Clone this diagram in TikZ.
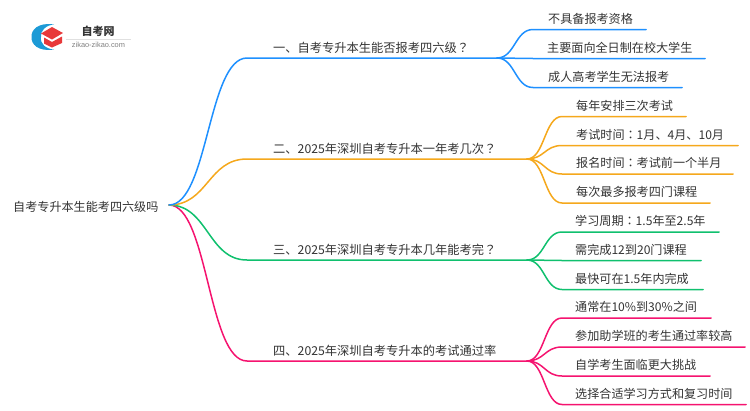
\documentclass[tikz,border=0pt]{standalone}
\usepackage{fontspec}
\setmainfont{Noto Sans CJK SC}
\newfontfamily\lat{Liberation Sans}
\newfontfamily\tcf{Noto Sans CJK TC}
\usetikzlibrary{calc}
\definecolor{cblue}{HTML}{1E90FF}
\definecolor{corange}{HTML}{F5A81C}
\definecolor{cgreen}{HTML}{10C06E}
\definecolor{cpink}{HTML}{F5136F}
\definecolor{ctext}{HTML}{333333}
\definecolor{lgred}{HTML}{E8393A}
\definecolor{lgblue}{HTML}{1C9AD6}
\tikzset{
  lbl/.style={anchor=west,inner sep=0pt,text=ctext,font=\fontsize{12.1}{14}\selectfont},
  head/.style={lbl,font=\fontsize{12.25}{14}\selectfont},
  wire/.style={line width=1.5pt,line cap=round,line join=round},
}
\newcommand{\qm}{{\tcf ？}}
\newcommand{\cln}{{\tcf ：}}
\newcommand{\sbend}[4]{%
  \draw[wire,#1] (#2) .. controls ($(#2)!0.5!(#3|-#2)$) and ($(#2|-#3)!0.5!(#3)$) .. (#3) -- (#4);}
\begin{document}
\begin{tikzpicture}[x=1pt,y=-1pt]
\useasboundingbox (0,0) rectangle (750,410);
% logo
\fill[lgblue] (54,24.5) .. controls (38,22) and (31,30) .. (31.5,37) .. controls (31,44) and (38,52) .. (54,49.5) .. controls (46,49) and (40,44) .. (41,37) .. controls (40,31) and (46,25) .. (54,24.5) -- cycle;
\fill[lgred] (41,33.5) -- (52,27) -- (63,33) -- (52,39.5) -- cycle;
\fill[lgred] (44,37.5) -- (52,42) -- (62,36.5) -- (62,43) -- (52,47.5) -- (44,43.5) -- cycle;
\node[inner sep=0pt,text=ctext,font=\fontsize{11}{12}\bfseries\selectfont] (lg) at (98,31) {自考网};
\draw[black!12,line width=0.6pt] (66,39) -- (131,39);
\node[inner sep=0pt,text=black!50,font=\lat\fontsize{7.4}{9}\selectfont] (lu) at (98.5,45) {zikao-zikao.com};
% root
\node[lbl] (root) at (13,206.5) {自考专升本生能考四六级吗};
\coordinate (r) at (169,205);
% branch anchors
\coordinate (b1a) at (247,58); \coordinate (b1z) at (497,58);
\coordinate (b2a) at (247,159); \coordinate (b2z) at (527,159);
\coordinate (b3a) at (247,260); \coordinate (b3z) at (527,260);
\coordinate (b4a) at (247,361); \coordinate (b4z) at (527,361);
\sbend{cpink}{r}{b4a}{b4z}
\sbend{cgreen}{r}{b3a}{b3z}
\sbend{corange}{r}{b2a}{b2z}
\sbend{cblue}{r}{b1a}{b1z}
\node[head] (n1) at (273,48) {一、自考专升本生能否报考四六级\qm};
\node[head] (n2) at (273,148.5) {二、2025年深圳自考专升本一年考几次\qm};
\node[head] (n3) at (273,249.5) {三、2025年深圳自考专升本几年能考完\qm};
\node[head] (n4) at (273,350.5) {四、2025年深圳自考专升本的考试通过率};
% blue leaves
\node[lbl] (a1) at (548,19) {不具备报考资格};
\node[lbl] (a2) at (547,48) {主要面向全日制在校大学生};
\node[lbl] (a3) at (548,76.5) {成人高考学生无法报考};
\coordinate (a1a) at (533,29.5); \coordinate (a1z) at (646,29.5);
\coordinate (a2a) at (533,58.5); \coordinate (a2z) at (705,58.5);
\coordinate (a3a) at (533,87.5); \coordinate (a3z) at (682,87.5);
\sbend{cblue}{b1z}{a1a}{a1z}
\sbend{cblue}{b1z}{a2a}{a2z}
\sbend{cblue}{b1z}{a3a}{a3z}
% orange leaves
\node[lbl] (c1) at (576,105.5) {每年安排三次考试};
\node[lbl] (c2) at (576,134.5) {考试时间\cln 1月、4月、10月};
\node[lbl] (c3) at (576,163) {报名时间\cln 考试前一个半月};
\node[lbl] (c4) at (576,192) {每次最多报考四门课程};
\coordinate (c1a) at (562,116.5); \coordinate (c1z) at (686,116.5);
\coordinate (c2a) at (562,145.5); \coordinate (c2z) at (738,145.5);
\coordinate (c3a) at (562,174); \coordinate (c3z) at (733,174);
\coordinate (c4a) at (562,203); \coordinate (c4z) at (710,203);
\sbend{corange}{b2z}{c1a}{c1z}
\sbend{corange}{b2z}{c2a}{c2z}
\sbend{corange}{b2z}{c3a}{c3z}
\sbend{corange}{b2z}{c4a}{c4z}
% green leaves
\node[lbl] (d1) at (575,221) {学习周期\cln 1.5年至2.5年};
\node[lbl] (d2) at (575,249.5) {需完成12到20门课程};
\node[lbl] (d3) at (575,278.5) {最快可在1.5年内完成};
\coordinate (d1a) at (562,232); \coordinate (d1z) at (719,232);
\coordinate (d2a) at (562,260.5); \coordinate (d2z) at (701,260.5);
\coordinate (d3a) at (562,289.5); \coordinate (d3z) at (703,289.5);
\sbend{cgreen}{b3z}{d1a}{d1z}
\sbend{cgreen}{b3z}{d2a}{d2z}
\sbend{cgreen}{b3z}{d3a}{d3z}
% pink leaves
\node[lbl] (e1) at (575,307) {通常在10\%到30\%之间};
\node[lbl] (e2) at (575,336) {参加助学班的考生通过率较高};
\node[lbl] (e3) at (575,365) {自学考生面临更大挑战};
\node[lbl] (e4) at (575,393.5) {选择合适学习方式和复习时间};
\coordinate (e1a) at (562,318); \coordinate (e1z) at (711,318);
\coordinate (e2a) at (562,347); \coordinate (e2z) at (745,347);
\coordinate (e3a) at (562,376); \coordinate (e3z) at (710,376);
\coordinate (e4a) at (562,404.5); \coordinate (e4z) at (746,404.5);
\sbend{cpink}{b4z}{e1a}{e1z}
\sbend{cpink}{b4z}{e2a}{e2z}
\sbend{cpink}{b4z}{e3a}{e3z}
\sbend{cpink}{b4z}{e4a}{e4z}
\end{tikzpicture}
\end{document}
